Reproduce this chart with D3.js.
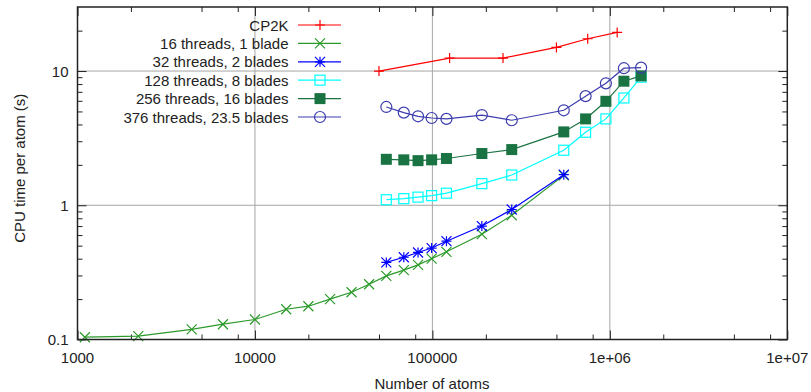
<!DOCTYPE html>
<html>
<head>
<meta charset="utf-8">
<script src="https://cdn.jsdelivr.net/npm/d3@7"></script>
<style>
  body { margin: 0; background: #fff; }
  svg text { font-family: "Liberation Sans", Arial, sans-serif; font-size: 15px; fill: #222; }
</style>
</head>
<body>
<svg id="chart" width="811" height="392"></svg>
<script>
// series data
const seriesNames = ['CP2K', '16 threads, 1 blade', '32 threads, 2 blades',
  '128 threads, 8 blades', '256 threads, 16 blades', '376 threads, 23.5 blades'];

const cp2kAtoms = [50000, 125000, 250000, 500000, 750000, 1100000];
const cp2kTime = [10.0, 12.5, 12.5, 15.0, 17.4, 19.4];

const atoms16 = [1100, 2200, 4400, 6600, 10000, 15000, 20000, 26500, 35000, 44000,
  55000, 69000, 83000, 99000, 120000, 190000, 280000, 550000];
const time16 = [0.104, 0.106, 0.119, 0.130, 0.141, 0.168, 0.177, 0.200, 0.225, 0.258,
  0.298, 0.329, 0.36, 0.40, 0.45, 0.609, 0.843, 1.67];

const atoms32 = [55000, 69000, 83000, 99000, 120000, 190000, 280000, 550000];
const time32 = [0.375, 0.41, 0.445, 0.48, 0.54, 0.70, 0.93, 1.69];

const atomsBig = [55000, 69000, 83000, 99000, 120000, 190000, 280000, 550000,
  730000, 950000, 1200000, 1500000];
const time128 = [1.10, 1.12, 1.15, 1.18, 1.23, 1.45, 1.68, 2.57, 3.5, 4.4, 6.3, 9.0];
const time256 = [2.2, 2.18, 2.15, 2.18, 2.23, 2.43, 2.6, 3.52, 4.4, 5.95, 8.4, 9.2];
const time376 = [5.4, 4.9, 4.6, 4.47, 4.4, 4.7, 4.3, 5.1, 6.5, 8.1, 10.5, 10.6];

const xMajor = [1000, 10000, 100000, 1e6, 1e7];
const xLabels = ['1000', '10000', '100000', '1e+06', '1e+07'];
const yMajor = [0.1, 1, 10];
const yLabels = ['0.1', '1', '10'];

const svg = d3.select('#chart');
const plotL = 77.5, plotR = 787.3, plotT = 7, plotB = 339.5;

const x = d3.scaleLog().domain([1000, 1e7]).range([plotL, plotR]);
const y = d3.scaleLog().domain([0.1, 30]).range([plotB, plotT]);

// minor ticks
const xMinor = [];
[1000, 10000, 100000, 1e6].forEach(d => [2, 5, 8].forEach(m => xMinor.push(d * m)));
const yMinor = [];
[0.1, 1, 10].forEach(d => [2, 3, 4, 5, 6, 7, 8, 9].forEach(m => { if (d * m < 30) yMinor.push(d * m); }));

// grid
const grid = svg.append('g').attr('stroke', '#a6a6a6').attr('stroke-width', 1);
[10000, 100000, 1e6].forEach(v => grid.append('line')
  .attr('x1', x(v)).attr('x2', x(v)).attr('y1', plotT).attr('y2', plotB));
[1, 10].forEach(v => grid.append('line')
  .attr('x1', plotL).attr('x2', plotR).attr('y1', y(v)).attr('y2', y(v)));

function tickAxis(axis, transform, values, size) {
  const g = svg.append('g').attr('transform', transform)
    .call(axis.tickValues(values).tickSize(size).tickFormat(''));
  g.select('.domain').remove();
  g.selectAll('line').attr('stroke', '#222').attr('stroke-width', 1);
}
tickAxis(d3.axisBottom(x), `translate(0,${plotB})`, xMajor, -9);
tickAxis(d3.axisBottom(x), `translate(0,${plotB})`, xMinor, -5);
tickAxis(d3.axisTop(x), `translate(0,${plotT})`, xMajor, -9);
tickAxis(d3.axisTop(x), `translate(0,${plotT})`, xMinor, -5);
tickAxis(d3.axisLeft(y), `translate(${plotL},0)`, yMajor, -9);
tickAxis(d3.axisLeft(y), `translate(${plotL},0)`, yMinor, -5);
tickAxis(d3.axisRight(y), `translate(${plotR},0)`, yMajor, -9);
tickAxis(d3.axisRight(y), `translate(${plotR},0)`, yMinor, -5);

// tick labels
svg.append('g').selectAll('text').data(xMajor).join('text')
  .attr('x', d => x(d)).attr('y', 363).attr('text-anchor', 'middle')
  .text((d, i) => xLabels[i]);
svg.append('g').selectAll('text').data(yMajor).join('text')
  .attr('x', 68.5).attr('y', d => y(d) + 5.5).attr('text-anchor', 'end')
  .text((d, i) => yLabels[i]);

// axis titles
svg.append('text').attr('x', (plotL + plotR) / 2 - 0.5).attr('y', 389)
  .attr('text-anchor', 'middle').text('Number of atoms');
svg.append('text').attr('transform', `translate(25,${(plotT + plotB) / 2 - 5}) rotate(-90)`)
  .attr('text-anchor', 'middle').text('CPU time per atom (s)');

// markers
function marker(g, type, color, cx, cy) {
  const s = 5;
  if (type === 'plus') {
    g.append('path').attr('d', `M${cx - s},${cy}H${cx + s}M${cx},${cy - s}V${cy + s}`)
      .attr('stroke', color).attr('stroke-width', 1.2).attr('fill', 'none');
  } else if (type === 'cross') {
    g.append('path').attr('d', `M${cx - s},${cy - s}L${cx + s},${cy + s}M${cx - s},${cy + s}L${cx + s},${cy - s}`)
      .attr('stroke', color).attr('stroke-width', 1.2).attr('fill', 'none');
  } else if (type === 'star') {
    g.append('path').attr('d', `M${cx - s},${cy}H${cx + s}M${cx},${cy - s}V${cy + s}` +
      `M${cx - s},${cy - s}L${cx + s},${cy + s}M${cx - s},${cy + s}L${cx + s},${cy - s}`)
      .attr('stroke', color).attr('stroke-width', 1.2).attr('fill', 'none');
  } else if (type === 'square') {
    g.append('rect').attr('x', cx - 5).attr('y', cy - 5).attr('width', 10).attr('height', 10)
      .attr('stroke', color).attr('stroke-width', 1.2).attr('fill', 'none');
  } else if (type === 'fsquare') {
    g.append('rect').attr('x', cx - 5.5).attr('y', cy - 5.5).attr('width', 11).attr('height', 11)
      .attr('fill', color);
  } else if (type === 'circle') {
    g.append('circle').attr('cx', cx).attr('cy', cy).attr('r', 5.5)
      .attr('stroke', color).attr('stroke-width', 1.2).attr('fill', 'none');
  }
}

const series = [
  { xs: cp2kAtoms, ys: cp2kTime, color: '#ff0000', type: 'plus' },
  { xs: atoms16, ys: time16, color: '#2b9a2b', type: 'cross' },
  { xs: atoms32, ys: time32, color: '#0000ff', type: 'star' },
  { xs: atomsBig, ys: time128, color: '#00ffff', type: 'square' },
  { xs: atomsBig, ys: time256, color: '#1a7342', type: 'fsquare' },
  { xs: atomsBig, ys: time376, color: '#3c3caf', type: 'circle' }
];

const line = d3.line().x(d => x(d[0])).y(d => y(d[1]));
series.forEach((s, i) => {
  const pts = s.xs.map((v, j) => [v, s.ys[j]]);
  const g = svg.append('g');
  g.append('path').attr('d', line(pts)).attr('fill', 'none')
    .attr('stroke', s.color).attr('stroke-width', 1.2);
  pts.forEach(p => marker(g, s.type, s.color, x(p[0]), y(p[1])));

  // legend entry
  const ly = 25 + i * 18.4;
  svg.append('text').attr('x', 288.5).attr('y', ly + 5.5).attr('text-anchor', 'end')
    .text(seriesNames[i]);
  svg.append('line').attr('x1', 298).attr('x2', 341).attr('y1', ly).attr('y2', ly)
    .attr('stroke', s.color).attr('stroke-width', 1.2);
  marker(svg.append('g'), s.type, s.color, 320, ly);
});

// frame
svg.append('rect').attr('x', plotL).attr('y', plotT)
  .attr('width', plotR - plotL).attr('height', plotB - plotT)
  .attr('fill', 'none').attr('stroke', '#222').attr('stroke-width', 1.5);
</script>
</body>
</html>
